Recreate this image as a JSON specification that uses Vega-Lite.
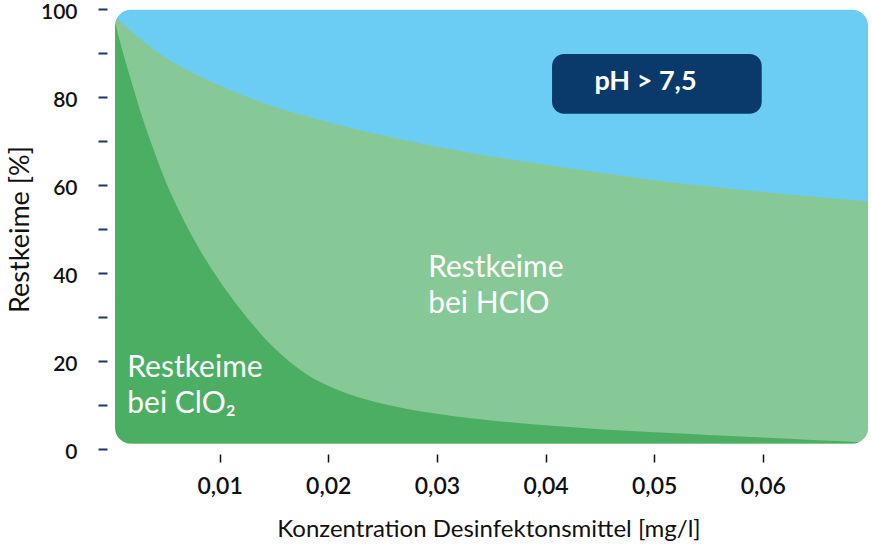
{
  "$schema": "https://vega.github.io/schema/vega-lite/v6.json",
  "width": 755,
  "height": 440,
  "autosize": {"type": "none"},
  "padding": {"left": 111, "top": 9, "right": 6, "bottom": 106},
  "background": "white",
  "config": {
    "view": {"stroke": null},
    "font": "Lato",
    "axis": {"grid": false, "domain": false, "labelFont": "Lato", "titleFont": "Lato", "labelColor": "#111111", "titleColor": "#111111", "titleFontWeight": "normal", "labelFontWeight": 600},
    "axisX": {"tickColor": "#111111", "tickWidth": 1.5, "tickSize": 8, "offset": 5, "labelPadding": 13, "labelFontSize": 23, "titleFontSize": 24, "titlePadding": 19},
    "axisY": {"tickColor": "#1b3a6b", "tickWidth": 2, "tickSize": 9, "offset": 4, "labelPadding": 21, "labelFontSize": 21, "labelOffset": 3, "titleFontSize": 27, "titlePadding": 6}
  },
  "datasets": {
    "frame": [{"x0": 0.00037, "x1": 0.0697, "y0": 1.2, "y1": 99.9}],
    "curves": [
      {"x": 0.00037, "hclo": 98.0, "clo2": 97.0},
      {"x": 0.001, "hclo": 96.8, "clo2": 91.0},
      {"x": 0.002, "hclo": 94.6, "clo2": 82.5},
      {"x": 0.003, "hclo": 92.6, "clo2": 74.5},
      {"x": 0.004, "hclo": 90.7, "clo2": 67.5},
      {"x": 0.005, "hclo": 89.0, "clo2": 61.0},
      {"x": 0.006, "hclo": 87.5, "clo2": 55.5},
      {"x": 0.008, "hclo": 84.9, "clo2": 46.0},
      {"x": 0.010, "hclo": 82.6, "clo2": 38.2},
      {"x": 0.012, "hclo": 80.5, "clo2": 31.5},
      {"x": 0.015, "hclo": 77.8, "clo2": 23.0},
      {"x": 0.018, "hclo": 75.6, "clo2": 17.0},
      {"x": 0.021, "hclo": 73.6, "clo2": 13.3},
      {"x": 0.025, "hclo": 71.3, "clo2": 10.3},
      {"x": 0.030, "hclo": 68.7, "clo2": 8.0},
      {"x": 0.035, "hclo": 66.5, "clo2": 6.5},
      {"x": 0.040, "hclo": 64.6, "clo2": 5.4},
      {"x": 0.045, "hclo": 62.8, "clo2": 4.5},
      {"x": 0.050, "hclo": 61.1, "clo2": 3.8},
      {"x": 0.055, "hclo": 59.7, "clo2": 3.2},
      {"x": 0.060, "hclo": 58.4, "clo2": 2.6},
      {"x": 0.065, "hclo": 57.3, "clo2": 2.0},
      {"x": 0.0697, "hclo": 56.3, "clo2": 1.5}
    ],
    "badge": [{"x0": 0.0406, "x1": 0.0599, "y0": 76.2, "y1": 89.8, "tx": 0.0492, "ty": 81.7, "text": "pH > 7,5"}],
    "notes": [
      {"text": "Restkeime", "x": 0.0292, "y": 39.1},
      {"text": "bei HClO", "x": 0.0292, "y": 31.0},
      {"text": "Restkeime", "x": 0.0015, "y": 16.3},
      {"text": "bei ClO₂", "x": 0.0015, "y": 8.1}
    ]
  },
  "layer": [
    {
      "data": {"name": "frame"},
      "mark": {"type": "rect", "fill": "#6ccdf4", "cornerRadius": 16},
      "encoding": {
        "x": {"field": "x0", "type": "quantitative", "title": "Konzentration Desinfektonsmittel [mg/l]",
              "scale": {"domain": [0, 0.0695], "nice": false, "zero": false},
              "axis": {"zindex": 2, "values": [0.01, 0.02, 0.03, 0.04, 0.05, 0.06], "labelExpr": "replace(format(datum.value, '.2f'), '.', ',')"}},
        "x2": {"field": "x1"},
        "y": {"field": "y1", "type": "quantitative", "title": "Restkeime [%]",
              "scale": {"domain": [0, 100], "nice": false},
              "axis": {"zindex": 2, "values": [0, 10, 20, 30, 40, 50, 60, 70, 80, 90, 100], "labelExpr": "datum.value % 20 == 0 ? datum.label : ''"}},
        "y2": {"field": "y0"}
      }
    },
    {
      "data": {"name": "curves"},
      "mark": {"type": "area", "fill": "#87c996", "interpolate": "monotone"},
      "encoding": {
        "x": {"field": "x", "type": "quantitative", "title": "Konzentration Desinfektonsmittel [mg/l]"},
        "y": {"field": "hclo", "type": "quantitative", "title": "Restkeime [%]"},
        "y2": {"datum": 1.2}
      }
    },
    {
      "data": {"name": "curves"},
      "mark": {"type": "area", "fill": "#4bae63", "interpolate": "monotone"},
      "encoding": {
        "x": {"field": "x", "type": "quantitative", "title": "Konzentration Desinfektonsmittel [mg/l]"},
        "y": {"field": "clo2", "type": "quantitative", "title": "Restkeime [%]"},
        "y2": {"datum": 1.2}
      }
    },
    {
      "data": {"name": "frame"},
      "mark": {"type": "rect", "fill": null, "stroke": "white", "strokeWidth": 30, "cornerRadius": 31, "xOffset": -15, "x2Offset": 15, "yOffset": -15, "y2Offset": 15},
      "encoding": {
        "x": {"field": "x0", "type": "quantitative", "title": "Konzentration Desinfektonsmittel [mg/l]"},
        "x2": {"field": "x1"},
        "y": {"field": "y1", "type": "quantitative", "title": "Restkeime [%]"},
        "y2": {"field": "y0"}
      }
    },
    {
      "data": {"name": "badge"},
      "mark": {"type": "rect", "fill": "#0a3a6c", "cornerRadius": 12},
      "encoding": {
        "x": {"field": "x0", "type": "quantitative", "title": "Konzentration Desinfektonsmittel [mg/l]"},
        "x2": {"field": "x1"},
        "y": {"field": "y1", "type": "quantitative", "title": "Restkeime [%]"},
        "y2": {"field": "y0"}
      }
    },
    {
      "data": {"name": "badge"},
      "mark": {"type": "text", "color": "white", "font": "Lato", "fontSize": 27, "fontWeight": "bold", "align": "center", "baseline": "alphabetic"},
      "encoding": {
        "x": {"field": "tx", "type": "quantitative", "title": "Konzentration Desinfektonsmittel [mg/l]"},
        "y": {"field": "ty", "type": "quantitative", "title": "Restkeime [%]"},
        "text": {"field": "text"}
      }
    },
    {
      "data": {"name": "notes"},
      "mark": {"type": "text", "color": "white", "font": "Lato", "fontSize": 30, "align": "left", "baseline": "alphabetic"},
      "encoding": {
        "x": {"field": "x", "type": "quantitative", "title": "Konzentration Desinfektonsmittel [mg/l]"},
        "y": {"field": "y", "type": "quantitative", "title": "Restkeime [%]"},
        "text": {"field": "text"}
      }
    }
  ]
}
